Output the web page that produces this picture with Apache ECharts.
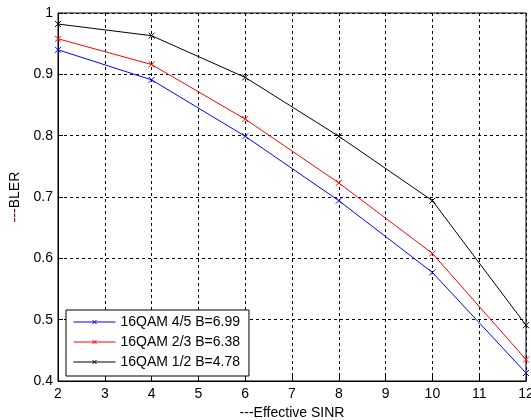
<!DOCTYPE html>
<html><head><meta charset="utf-8">
<script src="https://cdn.jsdelivr.net/npm/echarts@6/dist/echarts.min.js"></script>
<style>html,body{margin:0;padding:0;background:#fff}#c{width:531px;height:420px}</style>
</head><body><div id="c"></div>
<script>
var xValues = [2, 4, 6, 8, 10, 12];
var seriesNames = ['16QAM 4/5 B=6.99', '16QAM 2/3 B=6.38', '16QAM 1/2 B=4.78'];
var blue45 = [0.940, 0.891, 0.799, 0.694, 0.577, 0.413];
var red23 = [0.958, 0.916, 0.827, 0.723, 0.608, 0.435];
var black12 = [0.982, 0.963, 0.895, 0.799, 0.694, 0.491];
var colors = ['#0000ff', '#ff0000', '#000000'];
var allValues = [blue45, red23, black12];

var xSym = 'path://M0,0L10,10M10,0L0,10';
var font = 'Arial, "Liberation Sans", sans-serif';

function pairs(v) { return xValues.map(function (x, i) { return [x, v[i]]; }); }

var series = allValues.map(function (v, i) {
  return {
    name: seriesNames[i], type: 'line', data: pairs(v),
    symbol: xSym, symbolSize: 6, showSymbol: true,
    lineStyle: { color: colors[i], width: 1 },
    itemStyle: { color: 'rgba(0,0,0,0)', borderColor: colors[i], borderWidth: 1 },
    emphasis: { disabled: true }, animation: false
  };
});

var chart = echarts.init(document.getElementById('c'), null, { renderer: 'canvas' });
chart.setOption({
  animation: false,
  grid: { left: 58, right: 5, top: 13, bottom: 39, show: true, borderColor: '#000', borderWidth: 1,
    outerBoundsMode: 'none', containLabel: false },
  legend: {
    data: seriesNames.map(function (n, i) { return { name: n, itemStyle: { color: 'rgba(0,0,0,0)', borderColor: colors[i], borderWidth: 1 }, lineStyle: { color: colors[i], width: 1 } }; }),
    orient: 'vertical', left: 66, top: 310,
    itemWidth: 42, itemHeight: 5, itemGap: 4,
    padding: [4, 9, 6, 7],
    borderColor: '#000', borderWidth: 1, backgroundColor: '#fff',
    textStyle: { fontFamily: font, fontSize: 14, color: '#000', lineHeight: 16 },
    selectedMode: false
  },
  xAxis: {
    type: 'value', min: 2, max: 12, interval: 1,
    name: '---Effective SINR', nameLocation: 'middle', nameGap: 24,
    nameTextStyle: { fontFamily: font, fontSize: 14, color: '#000' },
    axisLine: { show: true, lineStyle: { color: '#000', width: 1 } },
    axisTick: { show: true, inside: true, length: 5, lineStyle: { color: '#000' } },
    axisLabel: { fontFamily: font, fontSize: 14, color: '#000', margin: 6 },
    splitLine: { show: true, lineStyle: { color: '#000', type: [3, 3], width: 1 } }
  },
  yAxis: {
    type: 'value', min: 0.4, max: 1, interval: 0.1,
    name: '{d|---}{t|BLER}', nameLocation: 'middle', nameGap: 35, nameRotate: 90,
    nameTextStyle: { fontFamily: font, fontSize: 14, color: '#000',
      rich: { d: { color: '#800000', fontFamily: font, fontSize: 14 }, t: { color: '#000', fontFamily: font, fontSize: 14 } } },
    axisLine: { show: true, lineStyle: { color: '#000', width: 1 } },
    axisTick: { show: true, inside: true, length: 5, lineStyle: { color: '#000' } },
    axisLabel: { fontFamily: font, fontSize: 14, color: '#000', margin: 5,
      formatter: function (v) { return String(+v.toFixed(1)); } },
    splitLine: { show: true, lineStyle: { color: '#000', type: [3, 3], width: 1 } }
  },
  series: series
});
</script></body></html>
